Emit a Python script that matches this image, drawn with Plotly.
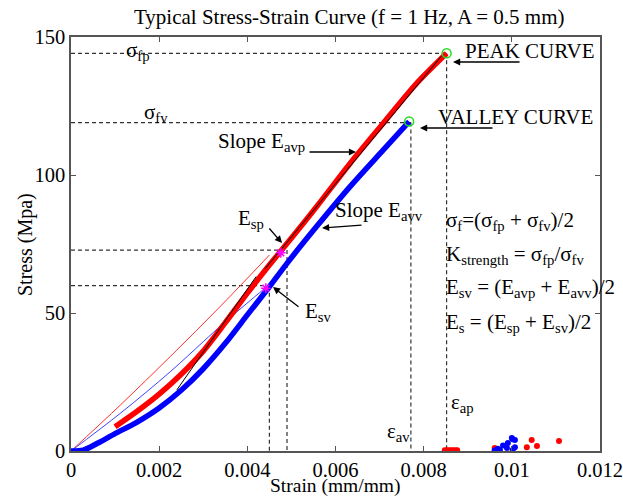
import plotly.graph_objects as go

# ---------------- data ----------------
peak_strain = [0.00100, 0.00150, 0.00200, 0.00250, 0.00300, 0.00350, 0.00400, 0.00450,
               0.00482, 0.00557, 0.00633, 0.00708, 0.00784, 0.00852]
peak_stress = [8.8, 14.4, 20.6, 27.8, 36.2, 46.5, 57.2, 67.4, 73.6, 88.5, 104.2, 118.7, 133.2, 144.1]

valley_strain = [0.0, 0.00028, 0.00060, 0.00100, 0.00150, 0.00200, 0.00250, 0.00300, 0.00350,
                 0.00400, 0.00450, 0.00490, 0.00557, 0.00633, 0.00708, 0.00767]
valley_stress = [0.0, 0.3, 2.8, 6.3, 10.5, 15.6, 22.0, 29.8, 39.0, 49.3, 59.5, 68.0, 81.3, 95.8, 109.0, 119.3]

thin_red_strain = [0.0, 0.00113, 0.00225, 0.00340, 0.00450]
thin_red_stress = [0.0, 16.8, 34.2, 52.6, 71.0]

thin_blue_strain = [0.0, 0.00113, 0.00225, 0.00300, 0.00346, 0.00399, 0.00440]
thin_blue_stress = [0.0, 13.8, 28.7, 39.6, 46.3, 53.5, 59.0]

fit_sp_strain = [0.00240, 0.00420]
fit_sp_stress = [22.1, 63.2]
fit_avp_strain = [0.00440, 0.00840]
fit_avp_stress = [66.0, 143.0]

sigma_fp, eps_ap = 144.1, 0.00852
sigma_fv, eps_av = 119.0, 0.00771
esp_stress, esp_strain = 72.8, 0.00490
esv_stress, esv_strain = 59.9, 0.00450
esp_pt = (0.00476, 71.8)
esv_pt = (0.00442, 59.0)

unload_red_strain = [0.00848, 0.00852, 0.00857, 0.00862, 0.00867, 0.00872, 0.00876,
                     0.00961, 0.00966, 0.01034, 0.01045, 0.01057, 0.01107]
unload_red_stress = [0.3, 0.3, 0.3, 0.3, 0.3, 0.3, 0.3, 1.1, 0.4, 1.4, 4.0, 1.8, 3.6]
unload_blue_strain = [0.00961, 0.00968, 0.00973, 0.00980, 0.00989, 0.00991, 0.01000,
                      0.01002, 0.01007, 0.01007, 0.01002]
unload_blue_stress = [0.2, 0.8, 0.4, 2.0, 1.1, 2.9, 4.7, 4.3, 4.0, 1.4, 0.4]

x_ticks = [0, 0.002, 0.004, 0.006, 0.008, 0.010, 0.012]
x_tick_labels = ["0", "0.002", "0.004", "0.006", "0.008", "0.01", "0.012"]
y_ticks = [0, 50, 100, 150]

FONT = "Liberation Serif"
FS = 21
DASH = "4px,3px"
DCOL = "#333333"

fig = go.Figure()

# dashed reference lines
def dline(xs, ys):
    fig.add_trace(go.Scatter(x=xs, y=ys, mode="lines",
                             line=dict(color=DCOL, width=1.2, dash=DASH),
                             hoverinfo="skip", showlegend=False))

dline([0, eps_ap], [sigma_fp, sigma_fp])
dline([eps_ap, eps_ap], [sigma_fp, 0])
dline([0, eps_av], [sigma_fv, sigma_fv])
dline([eps_av, eps_av], [sigma_fv, 0])
dline([0, esp_strain], [esp_stress, esp_stress])
dline([esp_strain, esp_strain], [esp_stress, 0])
dline([0, esv_strain], [esv_stress, esv_stress])
dline([esv_strain, esv_strain], [esv_stress, 0])

# thin loading lines
fig.add_trace(go.Scatter(x=thin_red_strain, y=thin_red_stress, mode="lines",
                         line=dict(color="#ff3030", width=1, shape="spline", smoothing=1),
                         showlegend=False))
fig.add_trace(go.Scatter(x=thin_blue_strain, y=thin_blue_stress, mode="lines",
                         line=dict(color="#4040ff", width=1, shape="spline", smoothing=1),
                         showlegend=False))

# thick curves
fig.add_trace(go.Scatter(x=valley_strain, y=valley_stress, mode="lines",
                         line=dict(color="#0000ff", width=5.5, shape="spline", smoothing=0.8),
                         showlegend=False))
fig.add_trace(go.Scatter(x=peak_strain, y=peak_stress, mode="lines",
                         line=dict(color="#ff0000", width=5.5, shape="spline", smoothing=0.8),
                         showlegend=False))

# fitted slopes
fig.add_trace(go.Scatter(x=fit_sp_strain, y=fit_sp_stress, mode="lines",
                         line=dict(color="#000000", width=1), showlegend=False))
fig.add_trace(go.Scatter(x=fit_avp_strain, y=fit_avp_stress, mode="lines",
                         line=dict(color="#000000", width=1), showlegend=False))

# unloading scatter
fig.add_trace(go.Scatter(x=unload_red_strain, y=unload_red_stress, mode="markers",
                         marker=dict(color="#ff0000", size=6), showlegend=False))
fig.add_trace(go.Scatter(x=unload_blue_strain, y=unload_blue_stress, mode="markers",
                         marker=dict(color="#0000ff", size=6), showlegend=False))

# key points
fig.add_trace(go.Scatter(x=[esp_pt[0], esv_pt[0]], y=[esp_pt[1], esv_pt[1]], mode="markers",
                         marker=dict(symbol="asterisk-open", color="#ff00ff", size=8,
                                     line=dict(color="#ff00ff", width=1.5)), showlegend=False))
fig.add_trace(go.Scatter(x=[eps_ap, eps_av - 0.00004], y=[sigma_fp, sigma_fv + 0.4], mode="markers",
                         marker=dict(symbol="circle-open", color="#22dd22", size=9,
                                     line=dict(color="#22dd22", width=1.5)), showlegend=False))

# ---------------- annotations ----------------
X0, XS, Y0, YS = 71.0, 44080.0, 451.0, 2.76

def dx(px):
    return (px - X0) / XS

def dy(py):
    return (Y0 - py) / YS

def label(px, py, text, size=FS):
    fig.add_annotation(x=dx(px), y=dy(py), text=text, showarrow=False,
                       xanchor="left", yanchor="middle",
                       font=dict(family=FONT, size=size, color="black"))

def arrow(tx, ty, hx, hy):
    fig.add_annotation(x=dx(hx), y=dy(hy), ax=dx(tx), ay=dy(ty), axref="x", ayref="y",
                       text="", showarrow=True, arrowhead=2, arrowsize=1.1,
                       arrowwidth=1.3, arrowcolor="black")

label(124, 51, "σ<sub>fp</sub>")
label(142, 113, "σ<sub>fv</sub>")
label(463, 51, "PEAK CURVE")
label(436, 117, "VALLEY CURVE")
label(216, 142, "Slope E<sub>avp</sub>")
label(333, 211, "Slope E<sub>avv</sub>")
label(236, 219, "E<sub>sp</sub>")
label(303, 312, "E<sub>sv</sub>")
label(444, 221, "σ<sub>f</sub>=(σ<sub>fp</sub> + σ<sub>fv</sub>)/2")
label(444, 255, "K<sub>strength</sub> = σ<sub>fp</sub>/σ<sub>fv</sub>")
label(444, 288, "E<sub>sv</sub> = (E<sub>avp</sub> + E<sub>avv</sub>)/2")
label(444, 323, "E<sub>s</sub> = (E<sub>sp</sub> + E<sub>sv</sub>)/2")
label(385, 432, "ε<sub>av</sub>")
label(449, 403, "ε<sub>ap</sub>")

arrow(521, 62, 453, 62)
arrow(494, 128, 420, 128)
arrow(308, 152, 356, 152)
arrow(363, 225, 322, 228)
arrow(268, 227, 282, 243)
arrow(300, 308, 273, 287)

# axis titles placed in the margins
fig.add_annotation(xref="paper", yref="paper", x=(335 - 71) / 529, y=-(486 - 451) / 414,
                   text="Strain (mm/mm)", showarrow=False, xanchor="center", yanchor="middle",
                   font=dict(family=FONT, size=19.5, color="black"))
fig.add_annotation(xref="paper", yref="paper", x=-(71 - 25) / 529, y=(451 - 245) / 414,
                   text="Stress (Mpa)", showarrow=False, xanchor="center", yanchor="middle",
                   textangle=-90, font=dict(family=FONT, size=20, color="black"))

axis_common = dict(showline=True, linecolor="#555555", linewidth=1.5, mirror="ticks",
                   ticks="inside", ticklen=5, tickcolor="#555555", tickwidth=1.2,
                   showgrid=False, zeroline=False, automargin=False,
                   ticklabeloverflow="allow",
                   tickfont=dict(family=FONT, size=20.5, color="black"))

fig.update_layout(
    width=623, height=499,
    margin=dict(l=71, r=23, t=37, b=48, autoexpand=False),
    paper_bgcolor="white", plot_bgcolor="white",
    font=dict(family=FONT, color="black"),
    title=dict(text="Typical Stress-Strain Curve (f = 1 Hz, A = 0.5 mm)",
               x=0.526, xref="paper", xanchor="center", y=0.966, yanchor="middle",
               font=dict(family=FONT, size=21, color="black")),
    xaxis=dict(range=[0, 0.012], tickvals=x_ticks, ticktext=x_tick_labels, **axis_common),
    yaxis=dict(range=[0, 150], tickvals=y_ticks, **axis_common),
)

fig.write_html("out.html")
